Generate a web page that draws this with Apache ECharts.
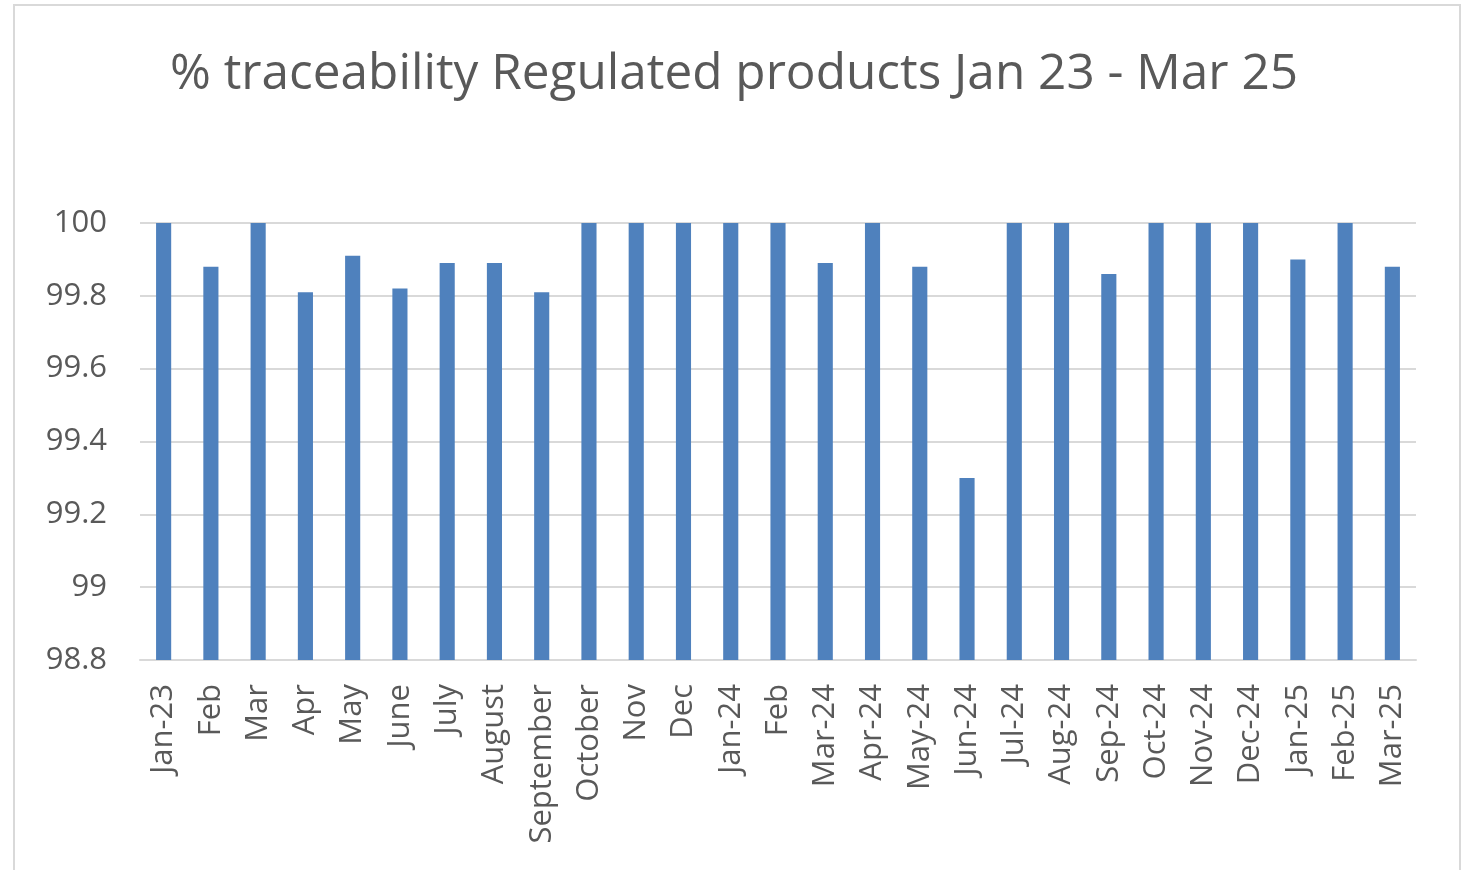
<!DOCTYPE html>
<html>
<head>
<meta charset="utf-8">
<script src="https://cdn.jsdelivr.net/npm/echarts@6/dist/echarts.min.js"></script>
<style>
  html, body { margin: 0; padding: 0; background: #ffffff; }
  #chart { width: 1468px; height: 870px; }
</style>
</head>
<body>
<div id="chart"></div>
<script>
// Monthly traceability of regulated products, Jan 2023 to Mar 2025
const months = [
  'Jan-23', 'Feb', 'Mar', 'Apr', 'May', 'June', 'July', 'August', 'September',
  'October', 'Nov', 'Dec', 'Jan-24', 'Feb', 'Mar-24', 'Apr-24', 'May-24',
  'Jun-24', 'Jul-24', 'Aug-24', 'Sep-24', 'Oct-24', 'Nov-24', 'Dec-24',
  'Jan-25', 'Feb-25', 'Mar-25'
];
const traceability = [
  100, 99.88, 100, 99.81, 99.91, 99.82, 99.89, 99.89, 99.81,
  100, 100, 100, 100, 100, 99.89, 100, 99.88,
  99.3, 100, 100, 99.86, 100, 100, 100,
  99.9, 100, 99.88
];
const yTicks = { min: 98.8, max: 100, step: 0.2 };

const chart = echarts.init(document.getElementById('chart'));
const font = '"Open Sans", "DejaVu Sans", sans-serif';

chart.setOption({
  animation: false,
  backgroundColor: '#ffffff',
  graphic: [{
    type: 'rect',
    shape: { x: 14, y: 5, width: 1446, height: 900 },
    style: { fill: 'none', stroke: '#d9d9d9', lineWidth: 2 },
    silent: true
  }],
  title: {
    text: '% traceability Regulated products Jan 23 - Mar 25',
    left: 'center',
    top: 45,
    textStyle: { fontFamily: font, fontSize: 49.5, fontWeight: 'normal', color: '#595959' }
  },
  grid: { left: 140, right: 52, top: 223, bottom: 210, containLabel: false },
  xAxis: {
    type: 'category',
    data: months,
    axisLine: { lineStyle: { color: '#d9d9d9', width: 2 } },
    axisTick: { show: false },
    axisLabel: {
      rotate: 90,
      interval: 0,
      margin: 24,
      fontFamily: font,
      fontSize: 31,
      color: '#595959'
    }
  },
  yAxis: {
    type: 'value',
    min: yTicks.min,
    max: yTicks.max,
    interval: yTicks.step,
    axisLine: { show: false },
    axisTick: { show: false },
    splitLine: { lineStyle: { color: '#d9d9d9', width: 2 } },
    axisLabel: {
      margin: 33,
      fontFamily: font,
      fontSize: 31,
      color: '#595959',
      formatter: v => String(Math.round(v * 10) / 10)
    }
  },
  series: [{
    type: 'bar',
    data: traceability,
    barWidth: '32%',
    itemStyle: { color: '#4f81bd' }
  }]
});
</script>
</body>
</html>
